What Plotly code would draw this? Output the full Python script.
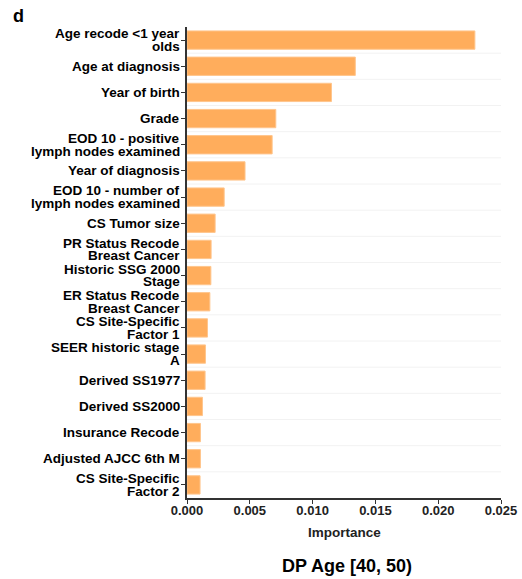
import plotly.graph_objects as go

# Feature importances (top to bottom)
features = [
    "Age recode <1 year\nolds",
    "Age at diagnosis",
    "Year of birth",
    "Grade",
    "EOD 10 - positive\nlymph nodes examined",
    "Year of diagnosis",
    "EOD 10 - number of\nlymph nodes examined",
    "CS Tumor size",
    "PR Status Recode\nBreast Cancer",
    "Historic SSG 2000\nStage",
    "ER Status Recode\nBreast Cancer",
    "CS Site-Specific\nFactor 1",
    "SEER historic stage\nA",
    "Derived SS1977",
    "Derived SS2000",
    "Insurance Recode",
    "Adjusted AJCC 6th M",
    "CS Site-Specific\nFactor 2",
]
importance = [
    0.02292, 0.01340, 0.01150, 0.00707, 0.00678, 0.00462, 0.00296, 0.00224,
    0.00192, 0.00190, 0.00182, 0.00163, 0.00147, 0.00144, 0.00123, 0.00107,
    0.00107, 0.00104,
]
x_ticks = [0.0, 0.005, 0.010, 0.015, 0.020, 0.025]
x_ticklabels = ["0.000", "0.005", "0.010", "0.015", "0.020", "0.025"]

FONT = "Liberation Sans, Arial, sans-serif"
BAR_COLOR = "#FFAD5C"
AXIS_COLOR = "#333333"

W, H = 522, 579
ML, MR, MT, MB = 187, 21, 27, 81
PW, PH = W - ML - MR, H - MT - MB

cats = list(range(len(features)))

fig = go.Figure(
    go.Bar(
        x=importance,
        y=cats,
        orientation="h",
        width=0.7,
        marker=dict(color=BAR_COLOR, line=dict(color="#FFC58C", width=1)),
        hoverinfo="x",
    )
)

# Multi-line category labels with tight line spacing
annotations = []
LINE = 12.5
for i, label in enumerate(features):
    lines = label.split("\n")
    n = len(lines)
    for j, line in enumerate(lines):
        offset = ((n - 1) / 2 - j) * LINE
        annotations.append(
            dict(
                x=0, xref="paper", y=i, yref="y",
                text=line, showarrow=False,
                xanchor="right", yanchor="middle",
                xshift=-5, yshift=offset,
                font=dict(family=FONT, size=13.5, color="black", weight="bold"),
            )
        )

# Panel letter, axis title and caption
annotations.append(dict(
    x=(11 - ML) / PW, xref="paper", y=1 + (MT - 16.5) / PH, yref="paper",
    text="d", showarrow=False, xanchor="left", yanchor="middle",
    font=dict(family=FONT, size=18, color="black", weight="bold"),
))
annotations.append(dict(
    x=(344 - ML) / PW, xref="paper", y=-(532 - (H - MB)) / PH, yref="paper",
    text="Importance", showarrow=False, xanchor="center", yanchor="middle",
    font=dict(family=FONT, size=13.5, color="#222222", weight="bold"),
))
annotations.append(dict(
    x=(347 - ML) / PW, xref="paper", y=-(566 - (H - MB)) / PH, yref="paper",
    text="DP Age [40, 50)", showarrow=False, xanchor="center", yanchor="middle",
    font=dict(family=FONT, size=18, color="black", weight="bold"),
))

# Faint separators between categories
shapes = [
    dict(type="line", xref="paper", x0=0, x1=1, yref="y", y0=i + 0.5, y1=i + 0.5,
         line=dict(color="#F2F2F2", width=1), layer="below")
    for i in range(len(features) - 1)
]

fig.update_layout(
    width=W, height=H, autosize=False,
    margin=dict(l=ML, r=MR, t=MT, b=MB, pad=0, autoexpand=False),
    paper_bgcolor="white", plot_bgcolor="white",
    showlegend=False,
    annotations=annotations,
    shapes=shapes,
    xaxis=dict(
        range=[0, 0.025], tickvals=x_ticks, ticktext=x_ticklabels,
        automargin=False,
        showgrid=False, zeroline=False,
        showline=True, linecolor=AXIS_COLOR, linewidth=1.5,
        ticks="outside", ticklen=4, tickwidth=1.3, tickcolor=AXIS_COLOR,
        ticklabelstandoff=-4, ticklabeloverflow="allow",
        tickfont=dict(family=FONT, size=13, color="#222222", weight="bold"),
    ),
    yaxis=dict(
        range=[len(features) - 0.5, -0.5],
        tickvals=cats, showticklabels=False,
        automargin=False,
        showgrid=False, zeroline=False,
        showline=True, linecolor=AXIS_COLOR, linewidth=1.5,
        ticks="outside", ticklen=4, tickwidth=1.3, tickcolor=AXIS_COLOR,
    ),
)

fig.write_html("out.html", config={"responsive": False})
